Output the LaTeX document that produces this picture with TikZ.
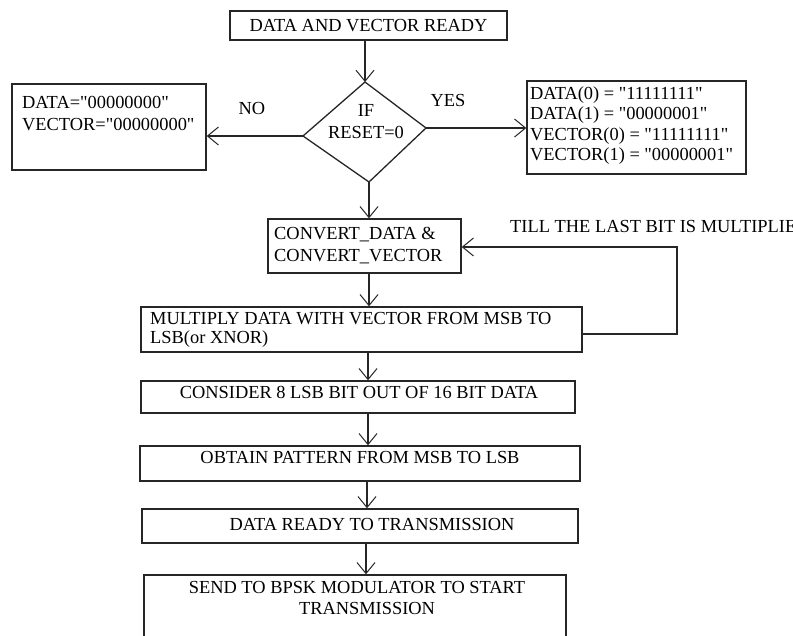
\documentclass[tikz,border=0pt]{standalone}
\usepackage{fontspec}
\setmainfont{Liberation Serif}[Ligatures=TeXOff]
\usetikzlibrary{arrows.meta}
\begin{document}
\begin{tikzpicture}[x=1pt,y=-1pt,
  box/.style={draw=black!85, line width=1.4pt, rectangle, inner sep=0pt},
  txt/.style={inner sep=0pt, font=\fontsize{18.4}{20}\selectfont, text=black},
  conn/.style={draw=black!85, line width=1.2pt, -{Straight Barb[length=11pt,width=18pt,line width=1pt]}},
  plain/.style={draw=black!85, line width=1.2pt}]
\clip (0,0) rectangle (793,635);
\fill[white] (0,0) rectangle (793,635);
% boxes
\node[box, minimum width=277pt, minimum height=29pt] (start) at (368.5,25.5) {};
\node[box, minimum width=194pt, minimum height=86pt] (lbox) at (109,127) {};
\node[box, minimum width=219pt, minimum height=93pt] (rbox) at (636.5,127.5) {};
\node[box, minimum width=193pt, minimum height=54pt] (conv) at (364.5,246) {};
\node[box, minimum width=441pt, minimum height=45pt] (mult) at (361.5,329.5) {};
\node[box, minimum width=434pt, minimum height=32pt] (cons) at (358,397) {};
\node[box, minimum width=440pt, minimum height=35pt] (obt) at (360,463.5) {};
\node[box, minimum width=436pt, minimum height=34pt] (ready) at (360,526) {};
\node[box, minimum width=422pt, minimum height=85pt] (send) at (355,617.5) {};
% decision
\coordinate (dT) at (365,82);
\coordinate (dL) at (303,136);
\coordinate (dR) at (426,128);
\coordinate (dB) at (369,182);
\draw[plain, line width=1.3pt, line join=miter] (dT) -- (dR) -- (dB) -- (dL) -- cycle;
% texts
\node[txt, anchor=base] (tstart) at (368.5,31.5) {DATA AND VECTOR READY};
\node[txt, anchor=base] (tif) at (366,116) {IF};
\node[txt, anchor=base] (treset) at (366,138) {RESET=0};
\node[txt, anchor=base] (tno) at (252,114) {NO};
\node[txt, anchor=base] (tyes) at (448,106) {YES};
\node[txt, anchor=base west] (tl1) at (22,108) {DATA="00000000"};
\node[txt, anchor=base west] (tl2) at (22,130) {VECTOR="00000000"};
\node[txt, anchor=base west] (tr1) at (530,99) {DATA(0) = "11111111"};
\node[txt, anchor=base west] (tr2) at (530,119.5) {DATA(1) = "00000001"};
\node[txt, anchor=base west] (tr3) at (530,140) {VECTOR(0) = "11111111"};
\node[txt, anchor=base west] (tr4) at (530,160.5) {VECTOR(1) = "00000001"};
\node[txt, anchor=base west] (tc1) at (274,239) {CONVERT\_DATA \&};
\node[txt, anchor=base west] (tc2) at (274,261) {CONVERT\_VECTOR};
\node[txt, anchor=base west] (tm1) at (150,324) {MULTIPLY DATA WITH VECTOR FROM MSB TO};
\node[txt, anchor=base west] (tm2) at (150,343) {LSB(or XNOR)};
\node[txt, anchor=base west] (ttill) at (510,232) {TILL THE LAST BIT IS MULTIPLIED};
\node[txt, anchor=base] (tcons) at (359,398) {CONSIDER 8 LSB BIT OUT OF 16 BIT DATA};
\node[txt, anchor=base] (tobt) at (360,463) {OBTAIN PATTERN FROM MSB TO LSB};
\node[txt, anchor=base] (tready) at (372,530) {DATA READY TO TRANSMISSION};
\node[txt, anchor=base] (ts1) at (357,593) {SEND TO BPSK MODULATOR TO START};
\node[txt, anchor=base] (ts2) at (367,614) {TRANSMISSION};
% connectors
\coordinate (a1) at (368,0);
\coordinate (a2) at (367,0);
\coordinate (a3) at (366,0);
\draw[conn] (dT |- start.south) -- (dT);
\draw[conn] (dL) -- (dL -| lbox.east);
\draw[conn] (dR) -- (dR -| rbox.west);
\draw[conn] (dB) -- (dB |- conv.north);
\draw[conn] (dB |- conv.south) -- (dB |- mult.north);
\draw[conn] (a1 |- mult.south) -- (a1 |- cons.north);
\draw[conn] (a1 |- cons.south) -- (a1 |- obt.north);
\draw[conn] (a2 |- obt.south) -- (a2 |- ready.north);
\draw[conn] (a3 |- ready.south) -- (a3 |- send.north);
\coordinate (lp) at (677,334);
\coordinate (lq) at (677,247);
\draw[conn] (mult.east |- lp) -- (lp) -- (lq) -- (lq -| conv.east);
\end{tikzpicture}
\end{document}
